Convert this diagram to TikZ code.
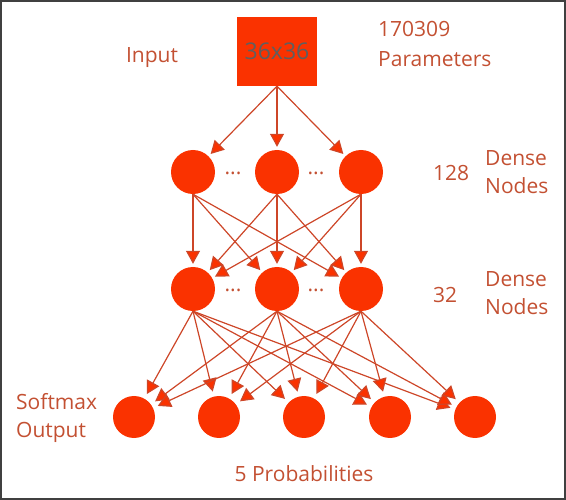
\documentclass[tikz,border=0pt]{standalone}
\usepackage{fontspec}
\setmainfont{Open Sans}
\usetikzlibrary{arrows.meta, positioning}
\definecolor{nodeRed}{RGB}{250, 50, 0}
\definecolor{lineRed}{RGB}{205, 70, 40}
\definecolor{labelRed}{RGB}{195, 80, 50}
\definecolor{frameGray}{RGB}{64, 64, 64}
\definecolor{inputGray}{RGB}{95, 95, 95}

\begin{document}
\begin{tikzpicture}[x=1pt, y=-1pt]
                \tikzstyle{neuron} = [circle, fill=nodeRed, minimum size=44pt, inner sep=0pt]
                \tikzstyle{outneuron} = [circle, fill=nodeRed, minimum size=42pt, inner sep=0pt]
                \tikzstyle{netlabel} = [font=\fontsize{21}{28}\selectfont, text=labelRed, inner sep=0pt, align=left]
                \tikzstyle{arrow} = [-{Triangle[length=13pt, width=14pt, fill=nodeRed]}, line width=1.2pt, lineRed, shorten >=3pt]

                \useasboundingbox (0,0) rectangle (566,500);
                \draw[frameGray, line width=2pt] (1,1) rectangle (565,499);

                \node[rectangle, fill=nodeRed, minimum width=80pt, minimum height=69pt, inner sep=0pt,
                      font=\fontsize{23}{28}\selectfont, text=inputGray] (input) at (277,51.5) {36x36};
                \node[netlabel, anchor=base] (inputtxt) at (152,63) {Input};
                \node[netlabel, anchor=base west] (params) at (378,67) {170309\\[2pt]Parameters};

                \node[neuron] (h1a) at (193,172) {};
                \node[neuron] (h1b) at (277,172) {};
                \node[neuron] (h1c) at (361,172) {};
                \node[netlabel, anchor=base] (h1dots1) at (233,175) {...};
                \node[netlabel, anchor=base] (h1dots2) at (316,175) {...};
                \node[netlabel, anchor=base west] (h1num) at (433,181) {128};
                \node[netlabel, anchor=base west] (h1txt) at (485,194) {Dense\\Nodes};

                \node[neuron] (h2a) at (193,289) {};
                \node[neuron] (h2b) at (277,289) {};
                \node[neuron] (h2c) at (361,289) {};
                \node[netlabel, anchor=base] (h2dots1) at (233,292) {...};
                \node[netlabel, anchor=base] (h2dots2) at (316,292) {...};
                \node[netlabel, anchor=base west] (h2num) at (433,303) {32};
                \node[netlabel, anchor=base west] (h2txt) at (485,315) {Dense\\Nodes};

                \node[outneuron] (out1) at (134,417) {};
                \node[outneuron] (out2) at (219,417) {};
                \node[outneuron] (out3) at (304,417) {};
                \node[outneuron] (out4) at (390,417) {};
                \node[outneuron] (out5) at (475,417) {};
                \node[netlabel, anchor=base west] (outtxt) at (16,437) {Softmax\\Output};
                \node[netlabel, anchor=base] (probs) at (304,482) {5 Probabilities};

                \draw[arrow] (input.south) -- (h1a);
                \draw[arrow] (input.south) -- (h1b);
                \draw[arrow] (input.south) -- (h1c);

                \draw[arrow] (h1a.south) -- (h2a);
                \draw[arrow] (h1a.south) -- (h2b);
                \draw[arrow] (h1a.south) -- (h2c);
                \draw[arrow] (h1b.south) -- (h2a);
                \draw[arrow] (h1b.south) -- (h2b);
                \draw[arrow] (h1b.south) -- (h2c);
                \draw[arrow] (h1c.south) -- (h2a);
                \draw[arrow] (h1c.south) -- (h2b);
                \draw[arrow] (h1c.south) -- (h2c);

                \draw[arrow, shorten >=5pt] (h2a.south) -- (out1);
                \draw[arrow, shorten >=5pt] (h2a.south) -- (out2);
                \draw[arrow, shorten >=5pt] (h2a.south) -- (out3);
                \draw[arrow, shorten >=5pt] (h2a.south) -- (out4);
                \draw[arrow, shorten >=5pt] (h2a.south) -- (out5);
                \draw[arrow, shorten >=5pt] (h2b.south) -- (out1);
                \draw[arrow, shorten >=5pt] (h2b.south) -- (out2);
                \draw[arrow, shorten >=5pt] (h2b.south) -- (out3);
                \draw[arrow, shorten >=5pt] (h2b.south) -- (out4);
                \draw[arrow, shorten >=5pt] (h2b.south) -- (out5);
                \draw[arrow, shorten >=5pt] (h2c.south) -- (out1);
                \draw[arrow, shorten >=5pt] (h2c.south) -- (out2);
                \draw[arrow, shorten >=5pt] (h2c.south) -- (out3);
                \draw[arrow, shorten >=5pt] (h2c.south) -- (out4);
                \draw[arrow, shorten >=5pt] (h2c.south) -- (out5);
            \end{tikzpicture}
\end{document}
